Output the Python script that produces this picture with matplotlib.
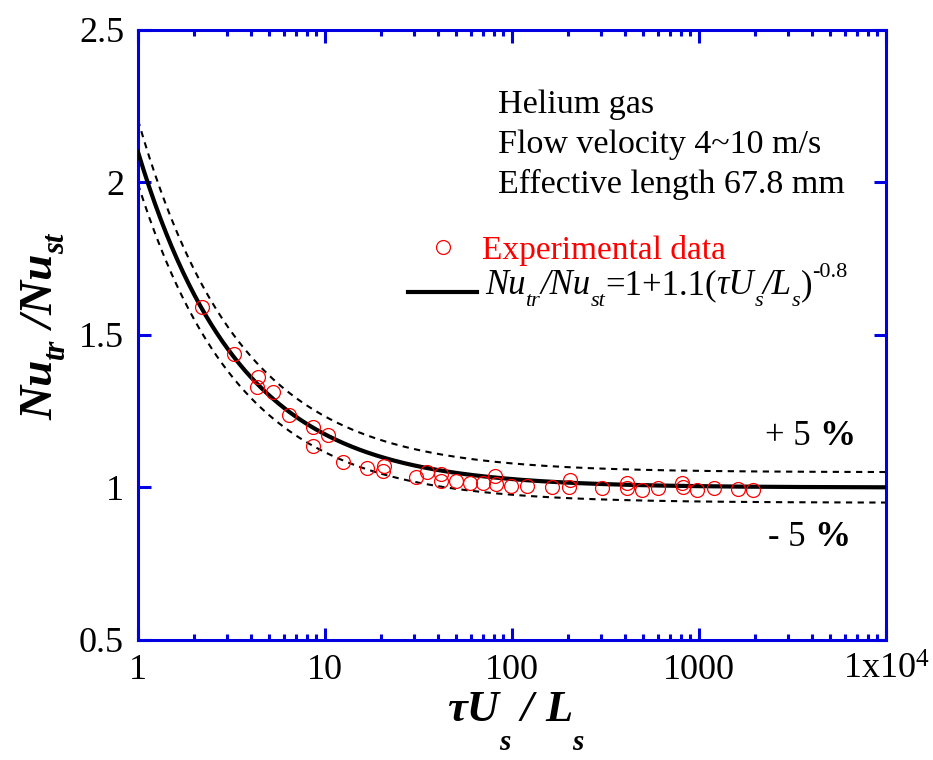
import numpy as np
import matplotlib
matplotlib.use("Agg")
import matplotlib.pyplot as plt
from matplotlib.ticker import FixedLocator, LogLocator, NullFormatter

plt.rcParams["font.family"] = ["Liberation Serif", "DejaVu Serif"]
plt.rcParams["mathtext.fontset"] = "custom"
plt.rcParams["mathtext.rm"] = "Liberation Serif"
plt.rcParams["mathtext.it"] = "Liberation Serif:italic"

# Measured transient-to-steady Nusselt ratio
tau_x = [2.19, 3.27, 4.37, 4.33, 5.29, 6.40, 8.66, 10.4, 8.60, 12.5,
         16.7, 20.8, 20.4, 30.7, 35.3, 41.5, 41.6, 50.4, 59.6, 70.0,
         81.6, 82.4, 98.8, 121, 164, 204, 202, 302, 411, 411,
         493, 606, 813, 818, 979, 1202, 1622, 1951]
nu_ratio = [1.593, 1.438, 1.363, 1.329, 1.312, 1.239, 1.199, 1.172, 1.137, 1.085,
            1.065, 1.072, 1.054, 1.034, 1.050, 1.043, 1.021, 1.020, 1.015, 1.015,
            1.038, 1.011, 1.005, 1.005, 1.002, 1.025, 1.001, 0.997, 1.016, 0.997,
            0.993, 0.998, 1.016, 1.000, 0.992, 0.997, 0.995, 0.993]

# Correlation Nu_tr/Nu_st = 1 + a (tau U_s / L_s)^b with a +/- band
corr_a = 1.1
corr_b = -0.8
band = 0.05

xticks = [1, 10, 100, 1000, 10000]
xticklabels = ["1", "10", "100", "1000", r"1x10$^{4}$"]
yticks = [0.5, 1.0, 1.5, 2.0, 2.5]
yticklabels = ["0.5", "1", "1.5", "2", "2.5"]

info_lines = ["Helium gas", "Flow velocity 4~10 m/s", "Effective length 67.8 mm"]

blue = "#0000e0"
W, H = 933, 760

fig = plt.figure(figsize=(W / 100, H / 100), dpi=100)
ax = fig.add_axes([138 / W, 1 - 640 / H, 748 / W, 610 / H])

xc = np.logspace(0, 4, 400)
yc = 1 + corr_a * xc ** corr_b
ax.plot(xc, yc * (1 + band), ls=(0, (3, 2.6)), color="black", lw=1.5, zorder=2)
ax.plot(xc, yc * (1 - band), ls=(0, (3, 2.6)), color="black", lw=1.5, zorder=2)
fit_line, = ax.plot(xc, yc, color="black", lw=3.0, zorder=3)
pts, = ax.plot(tau_x, nu_ratio, ls="none", marker="o", ms=10, mfc="none",
               mec="red", mew=0.9, zorder=4)

ax.set_xscale("log")
ax.set_xlim(1, 1e4)
ax.set_ylim(0.5, 2.5)
ax.xaxis.set_major_locator(FixedLocator(xticks))
ax.set_xticklabels(xticklabels)
ax.xaxis.set_minor_locator(LogLocator(base=10, subs=np.arange(2, 10)))
ax.xaxis.set_minor_formatter(NullFormatter())
ax.yaxis.set_major_locator(FixedLocator(yticks))
ax.set_yticklabels(yticklabels)

for sp in ax.spines.values():
    sp.set_color(blue)
    sp.set_linewidth(2.2)
ax.tick_params(which="both", direction="in", top=True, right=True,
               color=blue, labelsize=26, labelcolor="black")
ax.tick_params(which="major", length=9, width=2.2)
ax.tick_params(which="minor", length=4.5, width=2.2)
ax.tick_params(axis="x", pad=10)
ax.tick_params(axis="y", pad=10)

renderer = fig.canvas.get_renderer()

BI = dict(style="italic", weight="bold")
IT = dict(style="italic")
RM = dict()


def draw_runs(x, y, items, rot=0, color="black"):
    """Lay out text pieces one after another (pixel coords, origin bottom-left);
    each piece is (text, size, style, baseline shift, advance factor)."""
    for s, size, style, dy, adv in items:
        if rot == 0:
            px, py = x, y + dy
        else:
            px, py = x - dy, y
        t = fig.text(px / W, py / H, s, fontsize=size, rotation=rot,
                     rotation_mode="anchor", ha="left", va="baseline",
                     color=color, **style)
        bb = t.get_window_extent(renderer)
        if rot == 0:
            x += bb.width * adv
        else:
            y += bb.height * adv


# Axis titles
draw_runs(447, H - 721, [("τU", 32, BI, 0, 1.0), ("s", 21, BI, -29, 1.0),
                         (" / ", 32, BI, 0, 1.0), ("L", 32, BI, 0, 1.0),
                         ("s", 21, BI, -29, 1.0)])
draw_runs(52, H - 420, [("Nu", 34, BI, 0, 1.0), ("tr", 22, BI, -12, 1.0),
                        (" /Nu", 34, BI, 0, 1.0), ("st", 22, BI, -12, 1.0)], rot=90)

# Test conditions
for i, line in enumerate(info_lines):
    fig.text(498 / W, 1 - (113 + 40 * i) / H, line, fontsize=24.5,
             ha="left", va="baseline")

# Legend keys
leg = ax.legend([pts, fit_line], ["Experimental data", " "], loc="upper left",
                bbox_to_anchor=(408 / W, 1 - 235 / H), bbox_transform=fig.transFigure,
                frameon=False, fontsize=24, borderpad=0, borderaxespad=0,
                handlelength=2.07, handletextpad=0.15, labelspacing=0.44,
                labelcolor=["red", "black"])
fig.canvas.draw()
tb = leg.get_texts()[1].get_window_extent(renderer)
draw_runs(tb.x0 + 3, H - 294, [
    ("Nu", 25, IT, 0, 1.0), ("tr", 16, IT, -12, 1.0), ("/Nu", 25, IT, 0, 1.0),
    ("st", 16, IT, -12, 1.0), ("=1+1.1(", 25, RM, 0, 1.0), ("τU", 25, IT, 0, 1.0),
    ("s", 16, IT, -12, 1.0), ("/L", 25, IT, 0, 1.0), ("s", 16, IT, -12, 1.0),
    (")", 25, RM, 0, 1.0), ("-0.8", 16, RM, 17, 1.0)])

# Band annotations
draw_runs(765, H - 445, [("+ 5 ", 25, RM, 0, 1.0), ("%", 26, dict(weight="bold"), 0, 1.0)])
draw_runs(768, H - 546, [("- 5 ", 25, RM, 0, 1.0), ("%", 26, dict(weight="bold"), 0, 1.0)])

fig.savefig("out.png", dpi=100)
